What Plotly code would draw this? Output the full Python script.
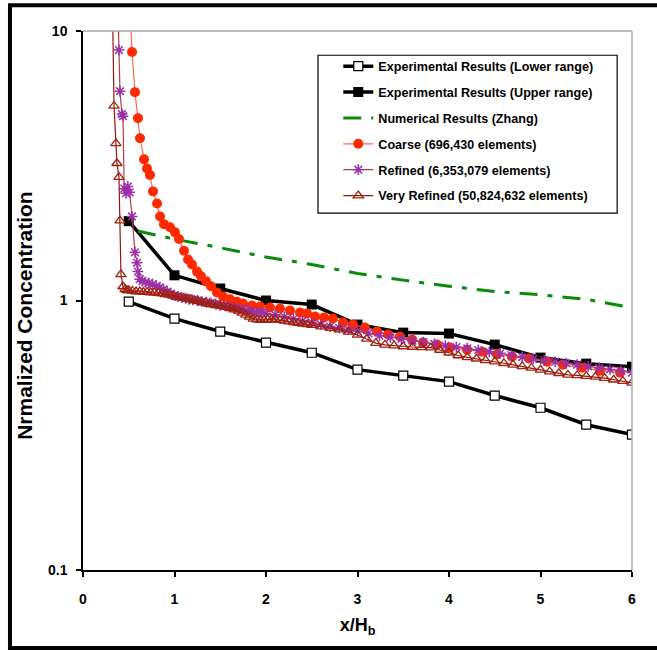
import plotly.graph_objects as go

# ---- Experimental data (Lower / Upper range) ----
exp_x = [0.5, 1.0, 1.5, 2.0, 2.5, 3.0, 3.5, 4.0, 4.5, 5.0, 5.5, 6.0]
exp_lower = [0.99, 0.857, 0.767, 0.698, 0.64, 0.554, 0.526, 0.50, 0.444, 0.40, 0.346, 0.318]
exp_upper = [1.97, 1.24, 1.108, 1.0, 0.966, 0.814, 0.76, 0.754, 0.686, 0.614, 0.583, 0.568]

# ---- Numerical results (Zhang) ----
zhang_x = [0.6, 1.0, 1.5, 2.0, 2.5, 3.0, 3.5, 4.0, 4.5, 5.0, 5.5, 6.0]
zhang_y = [1.81, 1.69, 1.57, 1.45, 1.36, 1.26, 1.19, 1.13, 1.08, 1.05, 1.01, 0.94]

# ---- Coarse mesh (696,430 elements) ----
coarse_x = [0.51, 0.536, 0.568, 0.601, 0.623, 0.667, 0.699, 0.732, 0.765, 0.809, 0.842,
            0.885, 0.951, 1.005, 1.049, 1.104, 1.148, 1.191, 1.246, 1.29, 1.344, 1.399,
            1.464, 1.53, 1.607, 1.683, 1.749, 1.847, 1.934, 2.044, 2.153, 2.262, 2.372,
            2.448, 2.536, 2.634, 2.732, 2.842, 2.951, 3.082, 3.213, 3.333, 3.464, 3.596,
            3.716, 3.869, 4.011, 4.197, 4.361, 4.525, 4.689, 4.874, 5.071, 5.246, 5.454,
            5.65, 5.869]
coarse_y = [13.0, 8.36, 5.93, 4.75, 4.0, 3.34, 3.09, 2.92, 2.54, 2.29, 2.05,
            1.92, 1.87, 1.79, 1.69, 1.53, 1.42, 1.36, 1.28, 1.23, 1.18, 1.13,
            1.07, 1.035, 1.01, 0.99, 0.975, 0.958, 0.95, 0.942, 0.934, 0.918, 0.902,
            0.895, 0.872, 0.865, 0.857, 0.828, 0.814, 0.794, 0.767, 0.748, 0.735, 0.716,
            0.698, 0.686, 0.669, 0.657, 0.646, 0.63, 0.619, 0.609, 0.593, 0.578, 0.563,
            0.549, 0.54]

# ---- Refined mesh (6,353,079 elements) ----
refined_x = [0.38, 0.393, 0.404, 0.426, 0.437, 0.45, 0.47, 0.49, 0.51, 0.536, 0.568,
             0.59, 0.60, 0.62, 0.65, 0.68, 0.72, 0.76, 0.80, 0.84, 0.88, 0.92, 0.96,
             1.0, 1.04, 1.08, 1.12, 1.16, 1.2, 1.25, 1.3, 1.35, 1.4, 1.45, 1.5, 1.55,
             1.6, 1.65, 1.7, 1.75, 1.8, 1.85, 1.9, 1.95, 2.0, 2.1, 2.2, 2.3, 2.4, 2.5,
             2.6, 2.7, 2.8, 2.9, 3.0, 3.12, 3.24, 3.36, 3.48, 3.6, 3.72, 3.84, 3.96,
             4.08, 4.2, 4.32, 4.44, 4.56, 4.68, 4.8, 4.92, 5.04, 5.16, 5.28, 5.4, 5.52,
             5.64, 5.76, 5.88, 6.0]
refined_y = [13.0, 8.5, 5.98, 4.92, 4.83, 2.6, 2.5, 2.65, 2.52, 2.05, 1.51,
             1.38, 1.28, 1.2, 1.18, 1.17, 1.16, 1.15, 1.13, 1.12, 1.10, 1.08, 1.06,
             1.045, 1.035, 1.025, 1.02, 1.01, 1.005, 1.0, 0.99, 0.985, 0.98, 0.97, 0.96, 0.955,
             0.945, 0.94, 0.93, 0.925, 0.92, 0.91, 0.905, 0.9, 0.895, 0.885, 0.87, 0.855, 0.84, 0.828,
             0.815, 0.80, 0.79, 0.78, 0.77, 0.755, 0.74, 0.73, 0.72, 0.71, 0.70, 0.69, 0.68,
             0.672, 0.665, 0.655, 0.645, 0.637, 0.627, 0.617, 0.607, 0.60, 0.592, 0.585, 0.578, 0.57,
             0.562, 0.555, 0.548, 0.54]

# ---- Very refined mesh (50,824,632 elements) ----
vrefined_x = [0.32, 0.339, 0.36, 0.371, 0.393, 0.404, 0.415, 0.437, 0.46, 0.48, 0.50,
              0.54, 0.58, 0.62, 0.66, 0.70, 0.74, 0.78, 0.82, 0.86, 0.90, 0.94, 0.98,
              1.02, 1.06, 1.10, 1.14, 1.18, 1.22, 1.26, 1.30, 1.34, 1.38, 1.42, 1.46,
              1.50, 1.54, 1.58, 1.62, 1.66, 1.70, 1.74, 1.78, 1.82, 1.86, 1.90, 1.94,
              1.98, 2.02, 2.06, 2.10, 2.15, 2.2, 2.25, 2.3, 2.35, 2.4, 2.45, 2.5, 2.6,
              2.7, 2.8, 2.9, 3.0, 3.1, 3.2, 3.3, 3.4, 3.5, 3.6, 3.7, 3.8, 3.9, 4.0, 4.1,
              4.2, 4.3, 4.4, 4.5, 4.6, 4.7, 4.8, 4.9, 5.0, 5.1, 5.2, 5.3, 5.4, 5.5, 5.6,
              5.7, 5.8, 5.9, 6.0]
vrefined_y = [14.0, 5.27, 3.83, 3.23, 2.87, 1.98, 1.25, 1.127, 1.10, 1.09, 1.09,
              1.085, 1.08, 1.08, 1.075, 1.075, 1.07, 1.07, 1.065, 1.06, 1.055, 1.05, 1.04,
              1.03, 1.025, 1.02, 1.015, 1.01, 1.0, 0.995, 0.985, 0.98, 0.97, 0.965, 0.96,
              0.955, 0.95, 0.945, 0.935, 0.925, 0.915, 0.90, 0.885, 0.87, 0.855, 0.85, 0.845,
              0.845, 0.85, 0.85, 0.85, 0.845, 0.84, 0.835, 0.83, 0.825, 0.82, 0.815, 0.81, 0.80,
              0.79, 0.78, 0.765, 0.745, 0.72, 0.695, 0.685, 0.68, 0.675, 0.672, 0.67, 0.668, 0.655, 0.64, 0.625,
              0.615, 0.608, 0.60, 0.593, 0.585, 0.577, 0.57, 0.562, 0.553, 0.545, 0.537, 0.53, 0.527, 0.524, 0.521,
              0.515, 0.508, 0.502, 0.495]

FONT = "Arial, Liberation Sans, sans-serif"

fig = go.Figure()

fig.add_trace(go.Scatter(
    x=exp_x, y=exp_lower, mode="lines+markers",
    name="Experimental Results (Lower range)",
    line=dict(color="black", width=3.5),
    marker=dict(symbol="square", size=9, color="white", line=dict(color="black", width=1.2)),
    legendgroup="a",
))
fig.add_trace(go.Scatter(
    x=exp_x, y=exp_upper, mode="lines+markers",
    name="Experimental Results (Upper range)",
    line=dict(color="black", width=3.5),
    marker=dict(symbol="square", size=10, color="black"),
    legendgroup="b",
))
fig.add_trace(go.Scatter(
    x=zhang_x, y=zhang_y, mode="lines",
    name="Numerical Results (Zhang)",
    line=dict(color="#0A8A0A", width=3, dash="18px,10px,5px,10px"),
    legendgroup="c",
))
fig.add_trace(go.Scatter(
    x=coarse_x, y=coarse_y, mode="lines+markers",
    name="Coarse (696,430 elements)",
    line=dict(color="#FF6A50", width=1.2),
    marker=dict(symbol="circle", size=10, color="#FF2A00"),
    legendgroup="d",
))
fig.add_trace(go.Scatter(
    x=refined_x, y=refined_y, mode="lines+markers",
    name="Refined (6,353,079 elements)",
    line=dict(color="#B04040", width=1.2),
    marker=dict(symbol="asterisk-open", size=9, color="#9B30A8",
                line=dict(color="#9B30A8", width=1.5)),
    legendgroup="e",
))
fig.add_trace(go.Scatter(
    x=vrefined_x, y=vrefined_y, mode="lines+markers",
    name="Very Refined (50,824,632 elements)",
    line=dict(color="#8E1A0C", width=1.2),
    marker=dict(symbol="triangle-up-open", size=9, color="#A02010",
                line=dict(color="#A02010", width=1.3)),
    legendgroup="f",
))

fig.update_layout(
    width=657, height=650,
    margin=dict(l=83, r=25, t=31, b=80),
    paper_bgcolor="white", plot_bgcolor="white",
    font=dict(family=FONT, color="black"),
    showlegend=True,
    legend=dict(
        x=0.465, y=0.962, xanchor="left", yanchor="top",
        bgcolor="rgba(255,255,255,0)", borderwidth=0,
        font=dict(family=FONT, size=12.6, weight="bold", color="black"),
        tracegroupgap=6.5,
    ),
    xaxis=dict(
        range=[0, 6], dtick=1, tick0=0,
        showline=True, linecolor="black", linewidth=1.5,
        ticks="outside", ticklen=5, tickcolor="black", tickwidth=1.5,
        showgrid=False, zeroline=False,
        tickfont=dict(family=FONT, size=14, weight="bold"),
        ticklabelstandoff=10,
        title=dict(text="x/H<sub>b</sub>", font=dict(family=FONT, size=18, weight="bold"),
                   standoff=13),
    ),
    yaxis=dict(
        type="log", range=[-1, 1],
        tickvals=[0.1, 1, 10], ticktext=["0.1", "1", "10"],
        showline=True, linecolor="black", linewidth=1.5,
        ticks="outside", ticklen=5, tickcolor="black", tickwidth=1.5,
        showgrid=False, zeroline=False,
        tickfont=dict(family=FONT, size=14, weight="bold"),
        ticklabelstandoff=6,
    ),
    annotations=[
        # y-axis title, set slightly below the vertical centre of the plot area
        dict(text="<b>Nrmalized Concentration</b>", textangle=-90,
             xref="paper", yref="paper", x=-0.107, y=0.472,
             xanchor="center", yanchor="middle", showarrow=False,
             font=dict(family=FONT, size=21, color="black")),
    ],
    shapes=[
        # light frame on the top and right of the plotting area
        dict(type="line", xref="paper", yref="paper", x0=0, x1=1, y0=1, y1=1,
             line=dict(color="#A8A8A8", width=1.5)),
        dict(type="line", xref="paper", yref="paper", x0=1, x1=1, y0=0, y1=1,
             line=dict(color="#A8A8A8", width=1.5)),
        # legend box
        dict(type="rect", xref="paper", yref="paper",
             x0=0.428, x1=0.973, y0=0.662, y1=0.955,
             line=dict(color="black", width=1.2), fillcolor="white", layer="above"),
        # outer chart frame
        dict(type="rect", xref="paper", yref="paper",
             x0=-0.133, x1=1.051, y0=-0.1447, y1=1.048,
             line=dict(color="black", width=4), fillcolor="rgba(0,0,0,0)"),
    ],
)

fig.write_html("out.html")
